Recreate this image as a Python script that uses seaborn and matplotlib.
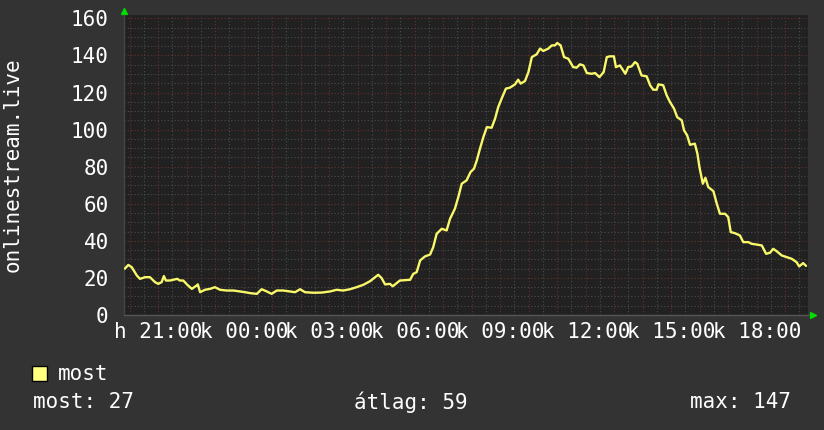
import matplotlib
matplotlib.use('Agg')
import matplotlib.pyplot as plt
import matplotlib.ticker as mticker
from matplotlib.patches import Rectangle
import seaborn as sns

# hours since Monday 00:00 (hétfő), viewer counts
hours = [19.83, 19.95, 20.07, 20.25, 20.36, 20.54, 20.71, 20.89, 21.00, 21.12, 21.20, 21.27, 21.41,
         21.53, 21.67, 21.76, 21.88, 22.02, 22.18, 22.35, 22.39, 22.47, 22.64, 22.82, 22.99, 23.17,
         23.40, 23.64, 23.87, 24.05, 24.22, 24.46, 24.63, 24.81, 24.98, 25.16, 25.39, 25.62, 25.80,
         25.98, 26.15, 26.44, 26.74, 27.03, 27.26, 27.49, 27.73, 27.96, 28.20, 28.43, 28.61, 28.72,
         28.84, 28.96, 29.13, 29.23, 29.37,
         29.48, 29.84, 29.95, 30.07, 30.19, 30.36, 30.54, 30.65, 30.77, 30.95, 31.12, 31.24, 31.41,
         31.53, 31.65, 31.82, 31.96, 32.08, 32.18, 32.29, 32.41, 32.53, 32.70, 32.82, 32.93, 33.05,
         33.20, 33.34, 33.52, 33.63, 33.72, 33.87, 33.99, 34.11, 34.28, 34.40, 34.51, 34.69, 34.81,
         34.92, 35.00, 35.12, 35.24, 35.39, 35.56, 35.68, 35.80, 35.92, 36.04, 36.21, 36.33, 36.48,
         36.63, 36.74, 36.85, 36.99, 37.06, 37.20, 37.30, 37.39, 37.49, 37.61, 37.73, 37.81, 37.96,
         38.14, 38.26, 38.37, 38.49, 38.55, 38.72, 38.84, 38.96, 39.10, 39.21, 39.37, 39.45, 39.56,
         39.66, 39.83, 39.92, 39.99, 40.11, 40.20, 40.30, 40.48, 40.60, 40.71, 40.89, 41.00, 41.09,
         41.24, 41.41, 41.53, 41.71, 41.82, 42.00, 42.18, 42.33, 42.47, 42.58, 42.70, 42.88, 43.05,
         43.23, 43.40, 43.49, 43.63, 43.73]
viewers = [25, 27, 25.8, 21.3, 19.5, 20.4, 20.4, 17.7, 16.8, 17.7, 21, 18.6, 18.6,
           19, 19.5, 18.6, 18.6, 16.3, 14.1, 15.9, 16.5, 12.3, 13.6, 14.1, 15, 13.6,
           13.2, 13.2, 12.7, 12.3, 11.8, 11.4, 13.9, 12.7, 11.4, 13.2, 13.2, 12.7, 12.3,
           13.9, 12.3, 12.0, 12.1, 12.7, 13.6, 13.2, 13.9, 15.0, 16.3, 18.2, 20.4, 21.7,
           19.9, 16.5, 16.8, 15.5, 17.2,
           18.6, 19.0, 22.2, 23.1, 29.4, 31.6, 32.6, 36.6, 43.8, 46.5, 45.6, 51.9, 57.3,
           63.6, 70.8, 72.6, 77.1, 78.9, 83.4, 89.7, 96.0, 101.3, 101.0, 105.9, 112.1, 116.7,
           122.1, 122.6, 124.4, 126.9, 124.8, 126.2, 131.0, 139.1, 140.6, 143.7, 142.4, 143.7, 145.4,
           145.4, 146.7, 145.4, 139.1, 138.2, 133.7, 133.4, 135.2, 134.6, 130.5, 130.1, 130.5, 128.3,
           131.0, 139.1, 139.5, 139.5, 133.7, 134.6, 132.3, 130.1, 133.7, 134.1, 136.4, 135.5, 129.2,
           128.7, 123.9, 121.5, 121.5, 124.4, 123.9, 118.5, 114.8, 111.3, 106.7, 105.0, 99.6, 96.9,
           91.8, 92.4, 87.0, 79.8, 70.8, 74.0, 69.0, 66.8, 60.0, 54.6, 54.6, 52.8, 44.7,
           44.1, 42.9, 39.3, 39.3, 38.4, 38.0, 37.5, 33.0, 33.6, 35.7, 34.4, 32.1, 31.2,
           30.3, 28.5, 26.2, 28.0, 26.5]

day_names = ['h', 'k']
footer = ['most: 27', 'átlag: 59', 'max: 147']
series_name = 'most'
ylabel = 'onlinestream.live'

sns.set_theme(style='dark')
plt.rcParams['font.family'] = ['DejaVu Sans Mono', 'DejaVu Sans']

bg = '#333333'
plot_bg = '#212121'
txt = '#ffffff'
fs = 15

fig = plt.figure(figsize=(8.24, 4.30), dpi=100, facecolor=bg)
ax = fig.add_axes([124 / 824, 1 - 315 / 430, 684 / 824, 300 / 430])
ax.set_facecolor(plot_bg)

sns.lineplot(x=hours, y=viewers, ax=ax, color='#f8f86a', linewidth=1.7, zorder=5)

ax.set_xlim(19.8, 43.8)
ax.set_ylim(0, 161.8)

ax.xaxis.set_major_locator(mticker.MultipleLocator(1))
ax.xaxis.set_minor_locator(mticker.MultipleLocator(0.5))
ax.yaxis.set_major_locator(mticker.MultipleLocator(20))
ax.yaxis.set_minor_locator(mticker.MultipleLocator(5))


def fmt_hour(v, pos):
    h = int(round(v))
    if h % 3:
        return ''
    return '%s %02d:00' % (day_names[h // 24], h % 24)


ax.xaxis.set_major_formatter(mticker.FuncFormatter(fmt_hour))
ax.yaxis.set_major_formatter(mticker.FuncFormatter(lambda v, p: '%d' % v if v <= 160 else ''))

ax.grid(which='major', color='#683030', linestyle=(0, (1, 2)), linewidth=0.8)
ax.grid(which='minor', color='#4c4c4c', linestyle=(0, (1, 2)), linewidth=0.8)
ax.set_axisbelow(True)

ax.tick_params(axis='both', which='both', length=0, colors=txt, labelsize=fs)
ax.tick_params(axis='x', pad=5)
ax.tick_params(axis='y', pad=11)
for lab in ax.get_xticklabels() + ax.get_yticklabels():
    lab.set_color(txt)
    lab.set_fontfamily('DejaVu Sans Mono')

for side in ['top', 'right']:
    ax.spines[side].set_visible(False)
ax.spines['left'].set_color('#444444')
ax.spines['bottom'].set_color('#555555')
ax.spines['left'].set_linewidth(1)
ax.spines['bottom'].set_linewidth(1)

# rrdtool style arrows
ax.plot([0], [1.015], marker='^', color='#00dd00', markersize=5, transform=ax.transAxes, clip_on=False)
ax.plot([1.007], [0], marker='>', color='#00dd00', markersize=5, transform=ax.transAxes, clip_on=False)

fig.text(13 / 824, 1 - 165 / 430, ylabel, rotation=90, color=txt, fontsize=fs,
         ha='center', va='center')

fig.patches.append(Rectangle((32 / 824, 1 - 381 / 430), 15 / 824, 15 / 430, transform=fig.transFigure,
                             facecolor='#ffff80', edgecolor='#000000', linewidth=1))
fig.text(58 / 824, 1 - 374 / 430, series_name, color=txt, fontsize=fs, ha='left', va='center')
fig.text(33 / 824, 1 - 402 / 430, footer[0], color=txt, fontsize=fs, ha='left', va='center')
fig.text(354 / 824, 1 - 402 / 430, footer[1], color=txt, fontsize=fs, ha='left', va='center')
fig.text(791 / 824, 1 - 402 / 430, footer[2], color=txt, fontsize=fs, ha='right', va='center')

fig.savefig('out.png', dpi=100, facecolor=bg)
